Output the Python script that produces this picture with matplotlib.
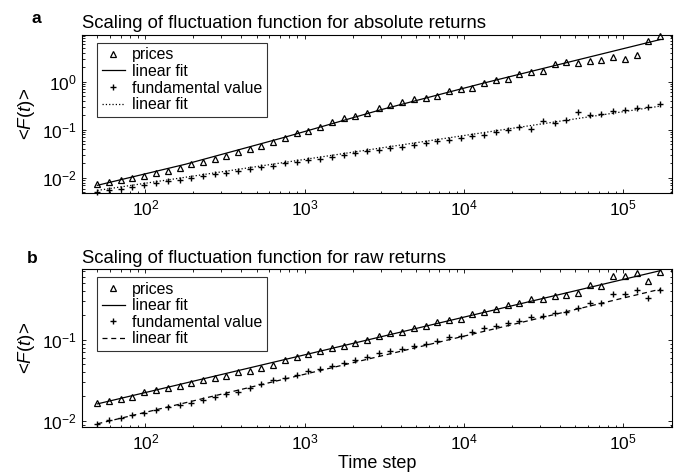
# Scaling of the fluctuation function <F(t)> against time step,
# for absolute returns (a) and raw returns (b), log-log axes

import matplotlib
matplotlib.use("Agg")
import matplotlib.pyplot as plt

plt.rcParams['font.family'] = 'Liberation Sans'
plt.rcParams['mathtext.fontset'] = 'custom'
plt.rcParams['mathtext.rm'] = 'Liberation Sans'
plt.rcParams['mathtext.it'] = 'Liberation Sans:italic'
plt.rcParams['mathtext.bf'] = 'Liberation Sans:bold'

# Time steps (window sizes)
time_steps = [50, 59, 70, 83, 98, 117, 138, 164, 194, 230, 272, 322, 382, 452,
              536, 635, 752, 891, 1055, 1250, 1481, 1754, 2078, 2461, 2916,
              3454, 4092, 4847, 5742, 6802, 8058, 9545, 11307, 13395, 15867,
              18796, 22266, 26377, 31246, 37014, 43847, 51941, 61530, 72889,
              86345, 102285, 121167, 143535, 170032]

# Panel a: absolute returns
abs_prices = [0.0075, 0.0084, 0.0091, 0.0099, 0.0112, 0.0129, 0.0140, 0.0159,
              0.0193, 0.0216, 0.0249, 0.0283, 0.0343, 0.0402, 0.0464, 0.0571,
              0.0670, 0.0853, 0.0968, 0.117, 0.1445, 0.172, 0.196, 0.222,
              0.282, 0.327, 0.377, 0.435, 0.457, 0.511, 0.649, 0.692, 0.726,
              0.938, 1.10, 1.155, 1.47, 1.59, 1.67, 2.34, 2.57, 2.41, 2.65,
              2.87, 3.27, 2.97, 3.65, 6.92, 9.08]
abs_fund = [0.00503, 0.0056, 0.0060, 0.0066, 0.00727, 0.0080, 0.00853, 0.00923,
            0.00985, 0.0112, 0.0119, 0.0129, 0.0142, 0.0152, 0.0167, 0.0178,
            0.0202, 0.0219, 0.0237, 0.0253, 0.0278, 0.0301, 0.0327, 0.0360,
            0.0383, 0.0415, 0.0450, 0.0495, 0.0527, 0.0600, 0.0620, 0.0692,
            0.0750, 0.0787, 0.0922, 0.100, 0.1137, 0.103, 0.156, 0.142, 0.161,
            0.230, 0.202, 0.215, 0.249, 0.261, 0.278, 0.296, 0.348]
abs_fit_x = [50, 179, 725, 3000, 12800, 170000]
abs_fit_prices = [0.00703, 0.0193, 0.068, 0.261, 0.908, 7.5]
abs_fit_fund_x = [50, 170000]
abs_fit_fund = [0.0055, 0.31]

# Panel b: raw returns
raw_prices = [0.0165, 0.0177, 0.0185, 0.0196, 0.0224, 0.0237, 0.0253, 0.0270,
              0.0292, 0.0315, 0.0336, 0.0360, 0.0399, 0.0418, 0.0455, 0.0495,
              0.0556, 0.0611, 0.0665, 0.0731, 0.0788, 0.0827, 0.0926, 0.100,
              0.112, 0.121, 0.1265, 0.139, 0.146, 0.1635, 0.1766, 0.1816,
              0.2094, 0.223, 0.239, 0.265, 0.284, 0.318, 0.321, 0.349, 0.352,
              0.377, 0.468, 0.455, 0.604, 0.604, 0.665, 0.535, 0.692]
raw_fund = [0.00918, 0.0103, 0.0109, 0.0117, 0.0124, 0.0137, 0.0148, 0.0158,
            0.0168, 0.0182, 0.0199, 0.0215, 0.0230, 0.0253, 0.0287, 0.0315,
            0.0336, 0.0370, 0.0407, 0.0435, 0.0477, 0.0515, 0.0556, 0.0605,
            0.0684, 0.0738, 0.0774, 0.0843, 0.0893, 0.098, 0.107, 0.112,
            0.1265, 0.139, 0.146, 0.1607, 0.172, 0.1885, 0.194, 0.213, 0.223,
            0.246, 0.284, 0.284, 0.366, 0.366, 0.414, 0.327, 0.414]
raw_fit_x = [50, 170000]
raw_fit_prices = [0.0162, 0.711]
raw_fit_fund = [0.0092, 0.42]

fig = plt.figure(figsize=(6.77, 4.75), dpi=100)
ax_a = fig.add_axes([0.121, 0.594, 0.872, 0.333])
ax_b = fig.add_axes([0.121, 0.101, 0.872, 0.333])

tri = dict(linestyle='none', marker='^', markersize=4.5, markerfacecolor='none',
           markeredgecolor='black', markeredgewidth=0.9, clip_on=False)
plus = dict(linestyle='none', marker='+', markersize=5, color='black',
            markeredgewidth=1.0, clip_on=False)

# Panel a
ax_a.plot(time_steps, abs_prices, label='prices', **tri)
ax_a.plot(abs_fit_x, abs_fit_prices, '-', color='black', lw=0.9, label='linear fit')
ax_a.plot(time_steps, abs_fund, label='fundamental value', **plus)
ax_a.plot(abs_fit_fund_x, abs_fit_fund, ':', color='black', lw=0.9, label='linear fit')
ax_a.set_ylim(0.0049, 9.5)
ax_a.set_title('Scaling of fluctuation function for absolute returns',
               loc='left', fontsize=13.3, pad=5)

# Panel b
ax_b.plot(time_steps, raw_prices, label='prices', **tri)
ax_b.plot(raw_fit_x, raw_fit_prices, '-', color='black', lw=0.9, label='linear fit')
ax_b.plot(time_steps, raw_fund, label='fundamental value', **plus)
ax_b.plot(raw_fit_x, raw_fit_fund, '--', color='black', lw=0.9,
          dashes=(4, 3), label='linear fit')
ax_b.set_ylim(0.0084, 0.75)
ax_b.set_title('Scaling of fluctuation function for raw returns',
               loc='left', fontsize=13.3, pad=4.5)
ax_b.set_xlabel('Time step', fontsize=13, labelpad=2)

for ax in (ax_a, ax_b):
    ax.set_xscale('log')
    ax.set_yscale('log')
    ax.set_xlim(40, 2.03e5)
    ax.tick_params(which='both', direction='in', top=True, right=True,
                   labelsize=12.5, width=0.6)
    ax.tick_params(which='major', length=3, pad=4)
    ax.tick_params(which='minor', length=1.8)
    for s in ax.spines.values():
        s.set_linewidth(0.8)
    ax.set_ylabel('<$F$($t$)>', fontsize=13.5)
    ax.yaxis.set_label_coords(-0.076, 0.5)
    leg = ax.legend(loc='upper left', bbox_to_anchor=(0.026, 0.95),
                    fontsize=11.4, frameon=True, fancybox=False,
                    edgecolor='black', handlelength=1.45, handletextpad=0.45,
                    labelspacing=0.1, borderpad=0.3, borderaxespad=0)
    leg.get_frame().set_linewidth(0.8)

fig.text(0.047, 1 - 23 / 475, 'a', fontsize=12.5, fontweight='bold', va='baseline')
fig.text(0.040, 1 - 263 / 475, 'b', fontsize=12.5, fontweight='bold', va='baseline')

plt.savefig('out.png', dpi=100)
